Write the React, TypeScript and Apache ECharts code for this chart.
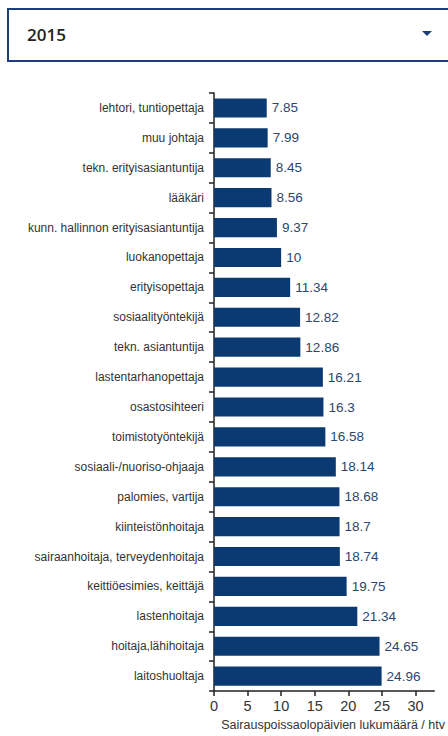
import React, { useEffect, useRef } from "react";
import * as echarts from "echarts";

const categories = [
  "lehtori, tuntiopettaja",
  "muu johtaja",
  "tekn. erityisasiantuntija",
  "lääkäri",
  "kunn. hallinnon erityisasiantuntija",
  "luokanopettaja",
  "erityisopettaja",
  "sosiaalityöntekijä",
  "tekn. asiantuntija",
  "lastentarhanopettaja",
  "osastosihteeri",
  "toimistotyöntekijä",
  "sosiaali-/nuoriso-ohjaaja",
  "palomies, vartija",
  "kiinteistönhoitaja",
  "sairaanhoitaja, terveydenhoitaja",
  "keittiöesimies, keittäjä",
  "lastenhoitaja",
  "hoitaja,lähihoitaja",
  "laitoshuoltaja",
];

const values = [
  7.85, 7.99, 8.45, 8.56, 9.37, 10, 11.34, 12.82, 12.86, 16.21, 16.3, 16.58,
  18.14, 18.68, 18.7, 18.74, 19.75, 21.34, 24.65, 24.96,
];

const yearLabel = "2015";
const axisName = "Sairauspoissaolopäivien lukumäärä / htv";

const FONT = "'Liberation Sans', Arial, sans-serif";

export default function App() {
  const ref = useRef<HTMLDivElement>(null);
  useEffect(() => {
    if (!ref.current) return;
    const chart = echarts.init(ref.current, undefined, { renderer: "svg" });
    chart.setOption({
      animation: false,
      backgroundColor: "#ffffff",
      graphic: [
        {
          type: "rect",
          shape: { x: 8, y: 9, width: 470, height: 52 },
          style: { fill: "#ffffff", stroke: "#1c3f78", lineWidth: 2 },
        },
        {
          type: "text",
          x: 27,
          y: 34,
          style: {
            text: yearLabel,
            font: "600 17px 'Open Sans', 'Noto Sans', sans-serif",
            fill: "#222222",
            verticalAlign: "middle",
          },
        },
        {
          type: "polygon",
          shape: { points: [[422, 31], [432, 31], [427, 36]] },
          style: { fill: "#1c3f78" },
        },
      ],
      grid: { left: 214, right: 5, top: 93, bottom: 39 },
      xAxis: {
        type: "value",
        min: 0,
        max: 32.8,
        interval: 5,
        axisLine: { show: true, lineStyle: { color: "#222", width: 1.5 } },
        axisTick: { show: true, length: 5, lineStyle: { color: "#222", width: 1.5 } },
        axisLabel: {
          color: "#333",
          fontSize: 14.5,
          fontFamily: FONT,
          margin: 7,
          showMaxLabel: false,
          formatter: (v: number) => (v % 5 === 0 ? String(v) : ""),
        },
        splitLine: { show: false },
        name: axisName,
        nameLocation: "middle",
        nameGap: 26,
        nameTextStyle: {
          color: "#333",
          fontSize: 12.5,
          fontFamily: FONT,
          padding: [0, 0, 0, 18],
        },
      },
      yAxis: {
        type: "category",
        data: categories,
        inverse: true,
        axisLine: { show: true, lineStyle: { color: "#222", width: 1.5 } },
        axisTick: { show: true, length: 5, lineStyle: { color: "#222", width: 1.5 } },
        axisLabel: {
          color: "#333",
          fontSize: 12,
          fontFamily: FONT,
          margin: 10,
        },
      },
      series: [
        {
          type: "bar",
          data: values,
          barWidth: "64%",
          itemStyle: { color: "#0b3a72" },
          label: {
            show: true,
            position: "right",
            distance: 5,
            color: "#2b4670",
            fontSize: 13.5,
            fontFamily: FONT,
          },
        },
      ],
    });
    return () => chart.dispose();
  }, []);
  return (
    <div
      ref={ref}
      style={{ position: "absolute", left: 0, top: 0, width: 448, height: 736 }}
    />
  );
}
